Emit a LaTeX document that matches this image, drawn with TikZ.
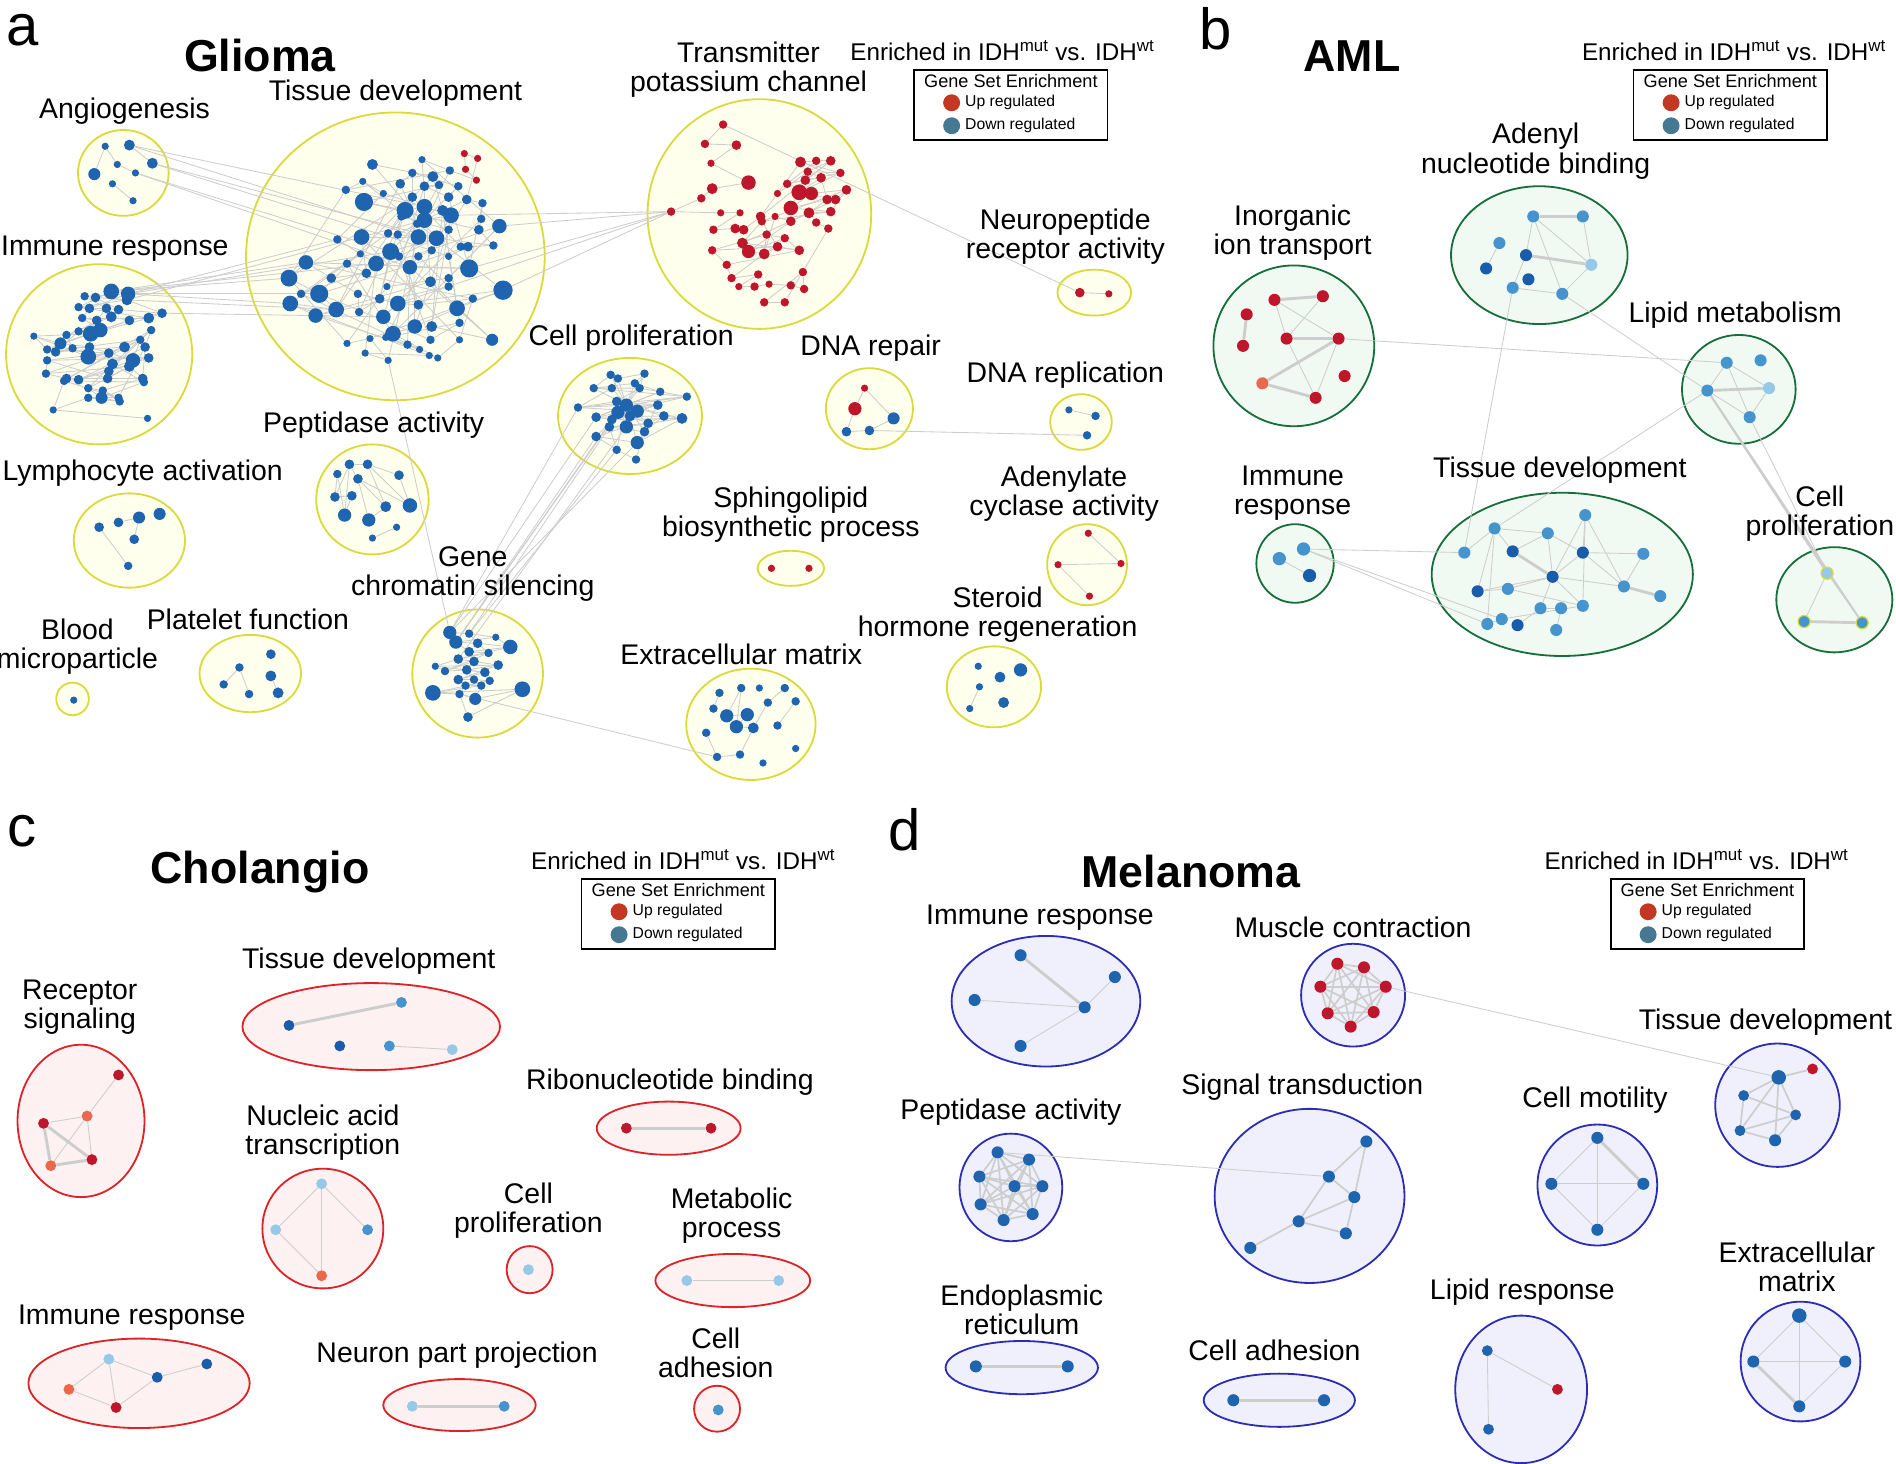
\documentclass[tikz,border=0pt]{standalone}
\usepackage{fontspec}
\setmainfont{Liberation Sans}
\usetikzlibrary{shapes.geometric}

\definecolor{gLine}{RGB}{218,218,60}
\definecolor{gFill}{RGB}{255,255,238}
\definecolor{aLine}{RGB}{22,110,58}
\definecolor{aFill}{RGB}{241,250,242}
\definecolor{cLine}{RGB}{220,35,40}
\definecolor{cFill}{RGB}{253,241,241}
\definecolor{mLine}{RGB}{45,45,180}
\definecolor{mFill}{RGB}{240,240,252}
\definecolor{dBlue}{RGB}{30,100,175}
\definecolor{dRed}{RGB}{190,22,42}
\definecolor{bMid}{RGB}{70,148,205}
\definecolor{bDark}{RGB}{25,92,170}
\definecolor{bLight}{RGB}{150,200,232}
\definecolor{oRed}{RGB}{232,105,75}
\definecolor{linkGray}{RGB}{205,205,205}
\definecolor{legUp}{RGB}{195,55,35}
\definecolor{legDown}{RGB}{70,120,145}

\pgfdeclarelayer{bg}
\pgfdeclarelayer{links}
\pgfsetlayers{bg,links,main}

\begin{document}
\begin{tikzpicture}[x=1pt,y=-1pt,
		lbl/.style={font=\fontsize{23.5}{24}\selectfont, align=center, inner sep=0},
		ttl/.style={font=\fontsize{37}{39}\selectfont\bfseries, inner sep=0},
		tag/.style={font=\fontsize{48}{50}\selectfont, inner sep=0},
		clus/.style={draw, shape=ellipse, inner sep=0, line width=1.5pt},
		gclus/.style={clus, draw=gLine, fill=gFill},
		aclus/.style={clus, draw=aLine, fill=aFill},
		cclus/.style={clus, draw=cLine, fill=cFill},
		mclus/.style={clus, draw=mLine, fill=mFill},
		gdot/.style={shape=circle, inner sep=0, minimum size=7pt, fill=dBlue},
		rdot/.style={gdot, fill=dRed},
		link/.style={draw=linkGray, line width=0.7pt},
		heavy/.style={draw=linkGray, line width=2.4pt},
		legbox/.style={draw, line width=1.4pt, fill=white, minimum width=160pt, minimum height=58pt, inner sep=0},
		leghead/.style={font=\fontsize{20}{22}\selectfont, inner sep=0},
		legtxt/.style={font=\fontsize{13}{14}\selectfont, inner sep=0, anchor=west},
		legdot/.style={shape=circle, inner sep=0, minimum size=14pt},
		]
		\useasboundingbox (0,0) rectangle (1568,1210);

		% clusters
		\begin{pgfonlayer}{bg}
		\foreach \n/\x/\y/\w/\h in {AG/102/143/75/71, TD/327/212/247/238, TP/628/177/185/190,
				NP/905/242/61/38, IR/82/293/154/149, CP/521/344/119/96, DR/719/338/72/67,
				DP/894/349/51/46, PA/308/413/93/91, LA/107/447/92/78, SP/654/470/55/29,
				AC/899/467/66/67, GC/395/557/108/106, BM/60/578/27/27, PF/207/557/84/64,
				SH/822/568/78/67, EM/621/599/107/92}
			\node[gclus, minimum width=\w pt, minimum height=\h pt] (a\n) at (\x,\y) {};
		\foreach \n/\x/\y/\w/\h in {AN/1273/211/146/114, IT/1070/286/133/133, LM/1438/322/94/90,
				IR/1071/466/64/65, TD/1292/475/216/135, CP/1517/496/96/87}
			\node[aclus, minimum width=\w pt, minimum height=\h pt] (b\n) at (\x,\y) {};
		\foreach \n/\x/\y/\w/\h in {RS/67/927/105/126, TD/307/849/213/72, RB/553/933/119/44,
				NA/267/1016/100/99, CP/438/1050/38/39, MP/606/1059/128/44, IR/115/1144/183/74,
				NP/380/1162/126/43, CA/593/1165/38/38}
			\node[cclus, minimum width=\w pt, minimum height=\h pt] (c\n) at (\x,\y) {};
		\foreach \n/\x/\y/\w/\h in {IR/865/828/156/108, MC/1119/823/86/85, TD/1470/914/103/102,
				ST/1083/989/157/144, PA/836/982/85/89, CM/1321/980/99/100, ER/845/1131/126/44,
				CA/1058/1158/125/44, LR/1258/1149/109/122, EM/1489/1126/99/99}
			\node[mclus, minimum width=\w pt, minimum height=\h pt] (d\n) at (\x,\y) {};
		\end{pgfonlayer}

		% Glioma dots
		\foreach \x/\y/\s [count=\i] in {87/121/6, 107/120/9, 97/136/6, 126/135/9, 112/143/6, 78/144/10, 93/152/6, 110/166/6}
			\node[gdot, minimum size=\s pt] (aAG\i) at (\x,\y) {};
		\foreach \x/\y/\s [count=\i] in {301/167/15, 335/174/14, 351/171/13, 373/178/13, 351/182/13, 299/196/13,
				346/196/13, 361/197/13, 323/208/14, 311/218/13, 339/221/12, 388/222/15, 253/217/12, 239/230/14,
				264/243/15, 278/256/13, 240/251/13, 261/261/12, 317/262/12, 329/251/13, 416/240/16, 378/255/13,
				343/270/12, 325/276/13, 413/187/12}
			\node[gdot, minimum size=\s pt] (aTDL\i) at (\x,\y) {};
		\foreach \x/\y/\s [count=\i] in {308/136/9, 358/146/9, 366/174/9, 357/270/9, 407/281/10, 356/233/9,
				349/132/6, 372/141/7, 286/157/7, 300/150/6, 317/160/6, 279/198/7, 298/210/6, 287/218/7, 303/226/8,
				274/230/8, 296/243/7, 297/258/7, 314/247/8, 332/179/7, 371/190/7, 386/165/8, 399/168/7, 398/181/7,
				396/190/8, 408/203/7, 387/204/8, 371/212/6, 357/207/7, 346/212/7, 371/237/7, 371/230/7, 320/237/6,
				287/284/6, 306/280/6, 321/298/6, 302/292/6, 355/294/6, 362/296/6, 380/281/6, 391/247/7, 346/252/8,
				329/194/7, 345/185/7, 331/152/8, 341/143/7, 379/154/7, 371/163/8, 351/154/8, 363/153/7, 330/212/7,
				356/281/7, 380/267/7, 319/279/6, 337/285/7, 347/289/6, 249/243/7, 321/193/7, 341/163/8, 381/204/7}
			\node[gdot, minimum size=\s pt] (aTDS\i) at (\x,\y) {};
		\foreach \x/\y [count=\i] in {384/127, 395/131, 385/140, 394/149}
			\node[rdot, minimum size=6pt] (aTDR\i) at (\x,\y) {};
		\foreach \x/\y/\s [count=\i] in {598/103/7, 583/119/7, 609/120/8, 588/135/6, 619/151/12, 589/156/9,
				580/164/7, 555/175/7, 596/176/6, 612/176/6, 590/190/7, 608/189/8, 615/190/8, 629/179/8, 643/160/6,
				662/134/9, 675/133/7, 687/133/8, 668/142/7, 695/143/7, 651/152/7, 666/149/8, 679/147/8, 661/159/13,
				671/160/11, 654/172/12, 684/165/8, 691/165/8, 700/157/8, 687/175/8, 669/176/9, 654/183/8, 641/179/6,
				630/183/7, 614/201/9, 619/208/11, 632/210/9, 643/204/8, 661/207/8, 649/197/7, 634/194/7, 589/207/7,
				601/219/7, 605/230/7, 627/227/7, 611/237/6, 624/237/7, 636/235/6, 654/236/7, 665/239/7, 664/225/7,
				632/250/7, 649/250/7, 685/189/7, 675/184/7}
			\node[rdot, minimum size=\s pt] (aTP\i) at (\x,\y) {};
		\foreach \x/\y/\s [count=\i] in {92/241/13, 106/243/12, 70/245/7, 79/246/8, 105/248/9, 65/254/7, 74/255/8,
				88/255/8, 98/256/8, 134/259/8, 123/263/9, 68/263/7, 80/265/8, 92/262/9, 107/265/8, 75/276/13,
				83/273/12, 65/274/7, 55/277/7, 50/284/10, 28/278/6, 39/289/7, 46/291/8, 60/288/7, 74/287/8, 73/295/13,
				90/292/8, 103/287/9, 116/281/7, 110/298/12, 123/296/8, 39/298/7, 38/309/7, 55/313/8, 65/314/8,
				90/307/8, 89/313/8, 107/303/9, 118/313/8, 120/287/8, 125/273/7, 93/301/9, 73/321/7, 85/323/7,
				98/329/7, 53/315/7, 119/316/7, 84/329/10, 99/332/7, 73/329/7, 44/339/6, 122/346/6}
			\node[gdot, minimum size=\s pt] (aIR\i) at (\x,\y) {};
		\foreach \x/\y/\s [count=\i] in {505/310/7, 511/313/7, 533/309/7, 525/317/7, 491/321/7, 506/321/7,
				529/321/7, 546/324/7, 568/328/7, 478/337/7, 510/332/8, 518/335/11, 511/341/11, 527/340/11, 544/335/8,
				493/345/8, 506/347/8, 521/344/9, 536/350/8, 549/344/8, 564/346/9, 518/353/11, 504/353/8, 533/357/8,
				527/366/11, 493/361/8, 510/372/7, 526/380/7}
			\node[gdot, minimum size=\s pt] (aCP\i) at (\x,\y) {};
		\foreach \x/\y/\s/\c [count=\i] in {715/321/6/dRed, 707/338/11/dRed, 739/346/10/dBlue, 719/356/8/dBlue, 700/357/8/dBlue}
			\node[gdot, fill=\c, minimum size=\s pt] (aDR\i) at (\x,\y) {};
		\foreach \x/\y/\s [count=\i] in {884/339/6, 906/344/7, 899/360/7}
			\node[gdot, minimum size=\s pt] (aDP\i) at (\x,\y) {};
		\foreach \x/\y/\s [count=\i] in {289/384/8, 304/384/8, 279/392/7, 296/396/8, 330/393/8, 277/411/8,
				291/410/8, 319/419/9, 339/418/12, 285/426/11, 305/430/11, 328/436/6, 308/445/6}
			\node[gdot, minimum size=\s pt] (aPA\i) at (\x,\y) {};
		\foreach \x/\y/\s [count=\i] in {82/436/8, 98/432/8, 115/428/10, 132/425/10, 111/446/8, 106/468/7}
			\node[gdot, minimum size=\s pt] (aLA\i) at (\x,\y) {};
		\foreach \x/\y [count=\i] in {638/470, 669/470}
			\node[rdot, minimum size=6pt] (aSP\i) at (\x,\y) {};
		\node[gdot, minimum size=6pt] (aBM1) at (61,579) {};
		\foreach \x/\y/\s [count=\i] in {224/541/8, 198/552/7, 224/559/9, 185/566/7, 206/574/7, 230/573/9}
			\node[gdot, minimum size=\s pt] (aPF\i) at (\x,\y) {};
		\foreach \x/\y/\s [count=\i] in {372/523/11, 388/524/7, 410/527/6, 377/531/11, 395/532/8, 422/535/12,
				388/539/8, 404/540/7, 379/545/8, 392/547/8, 368/555/7, 360/551/6, 412/550/8, 386/554/8, 401/556/8,
				379/562/8, 392/562/7, 405/563/7, 385/567/7, 398/567/7, 358/573/13, 380/574/7, 393/578/10,
				432/570/13, 387/593/8}
			\node[gdot, minimum size=\s pt] (aGC\i) at (\x,\y) {};
		\foreach \x/\y/\s [count=\i] in {595/573/7, 613/569/7, 628/569/6, 649/569/7, 635/581/7, 658/580/7,
				590/586/7, 601/592/11, 618/591/11, 609/601/11, 623/602/9, 643/600/7, 584/606/7, 658/619/6,
				593/626/7, 612/624/7, 631/631/6}
			\node[gdot, minimum size=\s pt] (aEM\i) at (\x,\y) {};
		\node[rdot, minimum size=8pt] (aNP1) at (893,242) {};
		\node[rdot, minimum size=6pt] (aNP2) at (917,243) {};
		\foreach \x/\y [count=\i] in {900/441, 875/467, 927/466, 901/493}
			\node[rdot, minimum size=6pt] (aAC\i) at (\x,\y) {};
		\foreach \x/\y/\s [count=\i] in {809/551/6, 844/554/11, 827/560/9, 810/568/6, 830/581/9, 802/586/6}
			\node[gdot, minimum size=\s pt] (aSH\i) at (\x,\y) {};

		% AML dots
		\foreach \x/\y/\c [count=\i] in {1268/179/bMid, 1309/179/bMid, 1240/201/bMid, 1262/211/bDark, 1316/219/bLight,
				1229/222/bDark, 1264/231/bDark, 1251/238/bMid, 1292/243/bMid}
			\node[gdot, fill=\c, minimum size=10pt] (bAN\i) at (\x,\y) {};
		\foreach \x/\y/\c [count=\i] in {1054/248/dRed, 1094/245/dRed, 1031/260/dRed, 1028/286/dRed, 1064/280/dRed,
				1107/280/dRed, 1112/311/dRed, 1044/317/oRed, 1088/329/dRed}
			\node[gdot, fill=\c, minimum size=10pt] (bIT\i) at (\x,\y) {};
		\foreach \x/\y/\c [count=\i] in {1428/300/bMid, 1456/298/bMid, 1412/323/bMid, 1463/321/bLight, 1447/345/bMid}
			\node[gdot, fill=\c, minimum size=10pt] (bLM\i) at (\x,\y) {};
		\foreach \x/\y/\c [count=\i] in {1078/454/bMid, 1058/462/bMid, 1083/476/bDark}
			\node[gdot, fill=\c, minimum size=11pt] (bIR\i) at (\x,\y) {};
		\foreach \x/\y/\c [count=\i] in {1311/426/bMid, 1236/437/bMid, 1280/441/bMid, 1211/457/bMid, 1251/456/bDark,
				1309/457/bDark, 1359/458/bMid, 1284/477/bDark, 1222/489/bDark, 1247/487/bMid, 1343/485/bMid,
				1373/493/bMid, 1274/503/bMid, 1291/503/bMid, 1309/501/bMid, 1230/516/bMid, 1242/512/bMid,
				1255/517/bDark, 1287/521/bMid}
			\node[gdot, fill=\c, minimum size=10pt] (bTD\i) at (\x,\y) {};
		\foreach \x/\y/\c [count=\i] in {1511/474/bLight, 1492/514/bMid, 1540/515/bMid}
			\node[gdot, fill=\c, draw=gLine, line width=1pt, minimum size=10pt] (bCP\i) at (\x,\y) {};

		% Cholangio dots
		\foreach \x/\y/\c [count=\i] in {98/889/dRed, 72/923/oRed, 36/929/dRed, 76/959/dRed, 42/964/oRed}
			\node[gdot, fill=\c, minimum size=9pt] (cRS\i) at (\x,\y) {};
		\foreach \x/\y/\c [count=\i] in {239/848/bDark, 332/829/bMid, 281/865/bDark, 322/865/bMid, 374/868/bLight}
			\node[gdot, fill=\c, minimum size=9pt] (cTD\i) at (\x,\y) {};
		\foreach \x/\y/\c [count=\i] in {518/933/dRed, 588/933/dRed}
			\node[gdot, fill=\c, minimum size=9pt] (cRB\i) at (\x,\y) {};
		\foreach \x/\y/\c [count=\i] in {266/979/bLight, 228/1017/bLight, 304/1017/bMid, 266/1055/oRed}
			\node[gdot, fill=\c, minimum size=9pt] (cNA\i) at (\x,\y) {};
		\node[gdot, fill=bLight, minimum size=9pt] (cCP1) at (437,1050) {};
		\foreach \x/\y/\c [count=\i] in {568/1059/bLight, 644/1059/bLight}
			\node[gdot, fill=\c, minimum size=9pt] (cMP\i) at (\x,\y) {};
		\foreach \x/\y/\c [count=\i] in {90/1124/bLight, 57/1149/oRed, 130/1139/bDark, 171/1128/bDark, 96/1164/dRed}
			\node[gdot, fill=\c, minimum size=9pt] (cIR\i) at (\x,\y) {};
		\foreach \x/\y/\c [count=\i] in {341/1163/bLight, 417/1163/bMid}
			\node[gdot, fill=\c, minimum size=9pt] (cNP\i) at (\x,\y) {};
		\node[gdot, fill=bMid, minimum size=9pt] (cCA1) at (594,1166) {};

		% Melanoma dots
		\foreach \x/\y [count=\i] in {844/790, 922/808, 806/827, 897/833, 844/865}
			\node[gdot, minimum size=10pt] (dIR\i) at (\x,\y) {};
		\foreach \x/\y [count=\i] in {1106/797, 1128/800, 1092/816, 1146/816, 1098/838, 1136/837, 1117/849}
			\node[rdot, minimum size=10pt] (dMC\i) at (\x,\y) {};
		\foreach \x/\y/\s/\c [count=\i] in {1499/884/9/dRed, 1471/891/12/dBlue, 1442/906/9/dBlue, 1485/922/9/dBlue,
				1439/935/9/dBlue, 1468/943/10/dBlue}
			\node[gdot, fill=\c, minimum size=\s pt] (dTD\i) at (\x,\y) {};
		\foreach \x/\y [count=\i] in {825/953, 851/959, 810/973, 839/981, 862/981, 811/996, 854/1004, 830/1009}
			\node[gdot, minimum size=10pt] (dPA\i) at (\x,\y) {};
		\foreach \x/\y [count=\i] in {1130/944, 1099/973, 1120/990, 1074/1010, 1113/1020, 1034/1032}
			\node[gdot, minimum size=10pt] (dST\i) at (\x,\y) {};
		\foreach \x/\y [count=\i] in {1321/941, 1283/979, 1359/979, 1321/1017}
			\node[gdot, minimum size=10pt] (dCM\i) at (\x,\y) {};
		\foreach \x/\y [count=\i] in {807/1130, 883/1130}
			\node[gdot, minimum size=10pt] (dER\i) at (\x,\y) {};
		\foreach \x/\y [count=\i] in {1020/1158, 1095/1158}
			\node[gdot, minimum size=10pt] (dCA\i) at (\x,\y) {};
		\foreach \x/\y/\c [count=\i] in {1230/1117/dBlue, 1288/1149/dRed, 1231/1182/dBlue}
			\node[gdot, fill=\c, minimum size=9pt] (dLR\i) at (\x,\y) {};
		\foreach \x/\y/\s [count=\i] in {1488/1088/12, 1450/1126/10, 1526/1126/10, 1488/1163/10}
			\node[gdot, minimum size=\s pt] (dEM\i) at (\x,\y) {};

		\begin{pgfonlayer}{links}
		% Glioma links
		\foreach \a/\b in {1/6, 1/3, 7/8, 3/5, 2/4}
			\draw[link] (aAG\a) -- (aAG\b);
		\foreach \i in {1,...,59} {
			\pgfmathtruncatemacro\j{\i+1}
			\pgfmathtruncatemacro\k{mod(\i*7,25)+1}
			\draw[link] (aTDS\i) -- (aTDS\j) (aTDS\i) -- (aTDL\k);
		}
		\foreach \i in {1,...,24} {
			\pgfmathtruncatemacro\j{\i+1}
			\draw[link] (aTDL\i) -- (aTDL\j);
		}
		\foreach \a/\b in {R1/R2, R1/R3, R3/R4, R4/S8, R2/S22}
			\draw[link] (aTD\a) -- (aTD\b);
		\foreach \i in {1,...,54} {
			\pgfmathtruncatemacro\j{\i+1}
			\draw[link] (aTP\i) -- (aTP\j);
		}
		\foreach \i in {14,...,40} {
			\pgfmathtruncatemacro\j{\i+4}
			\draw[link] (aTP\i) -- (aTP\j);
		}
		\foreach \i in {1,...,51} {
			\pgfmathtruncatemacro\j{\i+1}
			\draw[link] (aIR\i) -- (aIR\j);
		}
		\foreach \i in {1,...,46} {
			\pgfmathtruncatemacro\j{\i+5}
			\draw[link] (aIR\i) -- (aIR\j);
		}
		\foreach \i in {1,...,27} {
			\pgfmathtruncatemacro\j{\i+1}
			\draw[link] (aCP\i) -- (aCP\j) (aCP\i) -- (aCP12);
		}
		\foreach \i in {1,...,24} {
			\pgfmathtruncatemacro\j{\i+4}
			\draw[link] (aCP\i) -- (aCP\j);
		}
		\foreach \i in {1,...,24} {
			\pgfmathtruncatemacro\j{\i+1}
			\draw[link] (aGC\i) -- (aGC\j);
		}
		\foreach \i in {1,...,22} {
			\pgfmathtruncatemacro\j{\i+3}
			\draw[link] (aGC\i) -- (aGC\j);
		}
		\foreach \a/\b in {1/2, 1/3, 2/5, 4/3, 4/5}
			\draw[link] (aDR\a) -- (aDR\b);
		\draw[link] (aDP1) -- (aDP2);
		\foreach \a/\b in {1/2, 1/4, 2/5, 1/6, 3/6, 4/9, 2/9, 4/8, 5/9, 6/7, 7/10, 1/10, 4/11, 8/11, 3/10, 12/13, 2/8}
			\draw[link] (aPA\a) -- (aPA\b);
		\foreach \a/\b in {2/3, 3/5, 1/6}
			\draw[link] (aLA\a) -- (aLA\b);
		\foreach \a/\b in {2/4, 2/5, 3/6}
			\draw[link] (aPF\a) -- (aPF\b);
		\foreach \a/\b in {1/7, 2/8, 2/10, 8/9, 9/10, 10/11, 5/11, 6/12, 13/15, 15/16, 16/11, 4/5}
			\draw[link] (aEM\a) -- (aEM\b);
		\draw[link] (aNP1) -- (aNP2);
		\foreach \a/\b in {1/3, 2/3, 2/4}
			\draw[link] (aAC\a) -- (aAC\b);
		\draw[link] (aSH4) -- (aSH6);
		% Glioma links between clusters
		\foreach \a/\b in {AG2/TDL3, AG2/TDL7, AG4/TDL8, AG5/TDL11, AG4/TDS29, AG5/TDL9,
				IR1/TDL14, IR1/TDL13, IR2/TDL15, IR2/TDL17, IR5/TDL16, IR1/TDL10, IR2/TDL9, IR5/TDL6,
				IR10/TDL18, IR2/TDS12, TDL21/TP8, TDL12/TP8, TDL25/TP8, TDL4/TP8, TDL20/TP8,
				TDS36/GC1, CP10/GC1, CP16/GC1, CP23/GC2, CP26/GC4, CP27/GC2, CP17/GC4, CP22/GC9,
				CP25/GC1, CP13/GC4, GC22/EM15, TP1/NP1, DR4/DP3}
			\draw[link] (a\a) -- (a\b);

		% AML links
		\foreach \a/\b in {1/4, 1/9, 2/5, 3/6, 4/8, 8/9, 5/9, 1/5}
			\draw[link] (bAN\a) -- (bAN\b);
		\foreach \a/\b in {1/2, 4/5}
			\draw[heavy] (bAN\a) -- (bAN\b);
		\foreach \a/\b in {1/5, 2/5, 5/9, 6/9, 1/6}
			\draw[link] (bIT\a) -- (bIT\b);
		\foreach \a/\b in {1/2, 3/4, 5/6, 8/9, 6/8}
			\draw[heavy] (bIT\a) -- (bIT\b);
		\foreach \a/\b in {1/3, 3/5, 4/5, 1/4, 1/5}
			\draw[link] (bLM\a) -- (bLM\b);
		\draw[heavy] (bLM3) -- (bLM4);
		\draw[link] (bIR2) -- (bIR3);
		\foreach \a/\b in {2/5, 2/3, 2/9, 2/16, 3/5, 3/8, 3/6, 6/1, 6/8, 6/7, 1/8, 1/11, 11/8, 8/9, 8/10,
				8/15, 8/13, 10/15, 9/10, 13/14, 14/19, 18/13, 16/17, 17/15, 4/2, 1/15, 6/11, 7/11}
			\draw[link] (bTD\a) -- (bTD\b);
		\foreach \a/\b in {11/12, 5/8}
			\draw[heavy] (bTD\a) -- (bTD\b);
		\foreach \a/\b in {1/2, 1/3}
			\draw[link] (bCP\a) -- (bCP\b);
		\draw[heavy] (bCP2) -- (bCP3);
		\foreach \a/\b in {IT6/LM1, AN8/TD4, AN9/LM3, LM3/TD2, LM5/CP1, IR1/TD4, IR1/TD16, IR1/TD17}
			\draw[link] (b\a) -- (b\b);
		\foreach \a/\b in {LM3/CP1, LM3/CP3}
			\draw[link, line width=1.6pt] (b\a) -- (b\b);

		% Cholangio links
		\foreach \a/\b in {1/2, 3/2, 5/2, 2/4}
			\draw[link] (cRS\a) -- (cRS\b);
		\foreach \a/\b in {3/4, 3/5, 5/4}
			\draw[heavy] (cRS\a) -- (cRS\b);
		\draw[heavy] (cTD1) -- (cTD2);
		\draw[link] (cTD4) -- (cTD5);
		\draw[heavy] (cRB1) -- (cRB2);
		\foreach \a/\b in {1/2, 1/3, 1/4, 2/4}
			\draw[link] (cNA\a) -- (cNA\b);
		\draw[link] (cMP1) -- (cMP2);
		\foreach \a/\b in {1/2, 1/3, 1/5, 2/5, 5/3, 3/4}
			\draw[link] (cIR\a) -- (cIR\b);
		\draw[heavy] (cNP1) -- (cNP2);

		% Melanoma links
		\foreach \a/\b in {2/4, 3/4, 5/4}
			\draw[link] (dIR\a) -- (dIR\b);
		\draw[heavy] (dIR1) -- (dIR4);
		\foreach \i in {1,...,7} {\foreach \j in {1,...,7} {\ifnum\j>\i \draw[link, line width=1.4pt] (dMC\i) -- (dMC\j);\fi}}
		\foreach \a/\b in {1/2, 2/3, 2/4, 2/5, 2/6, 3/5, 5/6, 6/4, 4/5, 3/4}
			\draw[link, line width=1.4pt] (dTD\a) -- (dTD\b);
		\foreach \i in {1,...,8} {\foreach \j in {1,...,8} {\ifnum\j>\i \draw[link, line width=1.4pt] (dPA\i) -- (dPA\j);\fi}}
		\foreach \a/\b in {1/2, 1/3, 2/3, 2/4, 4/3, 4/5, 3/5, 6/4}
			\draw[link, line width=1.4pt] (dST\a) -- (dST\b);
		\foreach \i in {1,...,4} {\foreach \j in {1,...,4} {\ifnum\j>\i \draw[link] (dCM\i) -- (dCM\j);\fi}}
		\draw[heavy] (dCM1) -- (dCM3);
		\draw[heavy] (dER1) -- (dER2);
		\draw[heavy] (dCA1) -- (dCA2);
		\draw[link] (dLR1) -- (dLR2) (dLR1) -- (dLR3);
		\foreach \i in {1,...,4} {\foreach \j in {1,...,4} {\ifnum\j>\i \draw[link] (dEM\i) -- (dEM\j);\fi}}
		\draw[heavy] (dEM2) -- (dEM4);
		\draw[link] (dMC4) -- (dTD2);
		\draw[link] (dPA1) -- (dST2);
		\end{pgfonlayer}

		% panel tags and titles
		\node[tag] (tagA) at (19,25) {a};
		\node[tag] (tagB) at (1005,24) {b};
		\node[tag] (tagC) at (18,687) {c};
		\node[tag] (tagD) at (748,686) {d};
		\node[ttl] (ttlA) at (215,46) {Glioma};
		\node[ttl] (ttlB) at (1118,46) {AML};
		\node[ttl] (ttlC) at (215,721) {Cholangio};
		\node[ttl] (ttlD) at (985,721) {Melanoma};

		% legends
		\foreach \p/\lx/\ly/\hx in {A/836/87/829, B/1431/87/1434, C/561/756/565, D/1412/756/1403} {
			\node[legbox] (leg\p) at (\lx,\ly) {};
			\node[leghead] (leg\p H) at (\hx,\ly-45) {Enriched in IDH\textsuperscript{mut} vs. IDH\textsuperscript{wt}};
			\node[font=\fontsize{15}{16}\selectfont, inner sep=0] (leg\p G) at (\lx,\ly-20) {Gene Set Enrichment};
			\node[legdot, fill=legUp] (leg\p U) at (\lx-49,\ly-2) {};
			\node[legdot, fill=legDown] (leg\p D) at (\lx-49,\ly+17) {};
			\node[legtxt] (leg\p u) at (\lx-38,\ly-2) {Up regulated};
			\node[legtxt] (leg\p d) at (\lx-38,\ly+17) {Down regulated};
		}

		% Glioma labels
		\node[lbl] (laAG) at (103,92) {Angiogenesis};
		\node[lbl] (laTD) at (327,77) {Tissue development};
		\node[lbl] (laTP) at (619,58) {Transmitter\\potassium channel};
		\node[lbl] (laNP) at (881,196) {Neuropeptide\\receptor activity};
		\node[lbl] (laIR) at (95,206) {Immune response};
		\node[lbl] (laCP) at (522,280) {Cell proliferation};
		\node[lbl] (laDR) at (720,288) {DNA repair};
		\node[lbl] (laDP) at (881,310) {DNA replication};
		\node[lbl] (laPA) at (309,352) {Peptidase activity};
		\node[lbl] (laLA) at (118,391) {Lymphocyte activation};
		\node[lbl] (laSP) at (654,426) {Sphingolipid\\biosynthetic process};
		\node[lbl] (laAC) at (880,408) {Adenylate\\cyclase activity};
		\node[lbl] (laGC) at (391,475) {Gene\\chromatin silencing};
		\node[lbl] (laBM) at (64,535) {Blood\\microparticle};
		\node[lbl] (laPF) at (205,512) {Platelet function};
		\node[lbl] (laSH) at (825,508) {Steroid\\hormone regeneration};
		\node[lbl] (laEM) at (613,541) {Extracellular matrix};

		% AML labels
		\node[lbl] (lbAN) at (1270,125) {Adenyl\\nucleotide binding};
		\node[lbl] (lbIT) at (1069,192) {Inorganic\\ion transport};
		\node[lbl] (lbLM) at (1435,261) {Lipid metabolism};
		\node[lbl] (lbIR) at (1069,408) {Immune\\response};
		\node[lbl] (lbTD) at (1290,389) {Tissue development};
		\node[lbl] (lbCP) at (1505,425) {Cell\\proliferation};

		% Cholangio labels
		\node[lbl] (lcRS) at (66,833) {Receptor\\signaling};
		\node[lbl] (lcTD) at (305,795) {Tissue development};
		\node[lbl] (lcRB) at (554,895) {Ribonucleotide binding};
		\node[lbl] (lcNA) at (267,937) {Nucleic acid\\transcription};
		\node[lbl] (lcCP) at (437,1001) {Cell\\proliferation};
		\node[lbl] (lcMP) at (605,1005) {Metabolic\\process};
		\node[lbl] (lcIR) at (109,1090) {Immune response};
		\node[lbl] (lcNP) at (378,1121) {Neuron part projection};
		\node[lbl] (lcCA) at (592,1119) {Cell\\adhesion};

		% Melanoma labels
		\node[lbl] (ldIR) at (860,759) {Immune response};
		\node[lbl] (ldMC) at (1119,767) {Muscle contraction};
		\node[lbl] (ldTD) at (1460,845) {Tissue development};
		\node[lbl] (ldST) at (1077,899) {Signal transduction};
		\node[lbl] (ldPA) at (836,920) {Peptidase activity};
		\node[lbl] (ldCM) at (1319,910) {Cell motility};
		\node[lbl] (ldER) at (845,1083) {Endoplasmic\\reticulum};
		\node[lbl] (ldCA) at (1054,1117) {Cell adhesion};
		\node[lbl] (ldLR) at (1259,1069) {Lipid response};
		\node[lbl] (ldEM) at (1486,1048) {Extracellular\\matrix};
\end{tikzpicture}
\end{document}
